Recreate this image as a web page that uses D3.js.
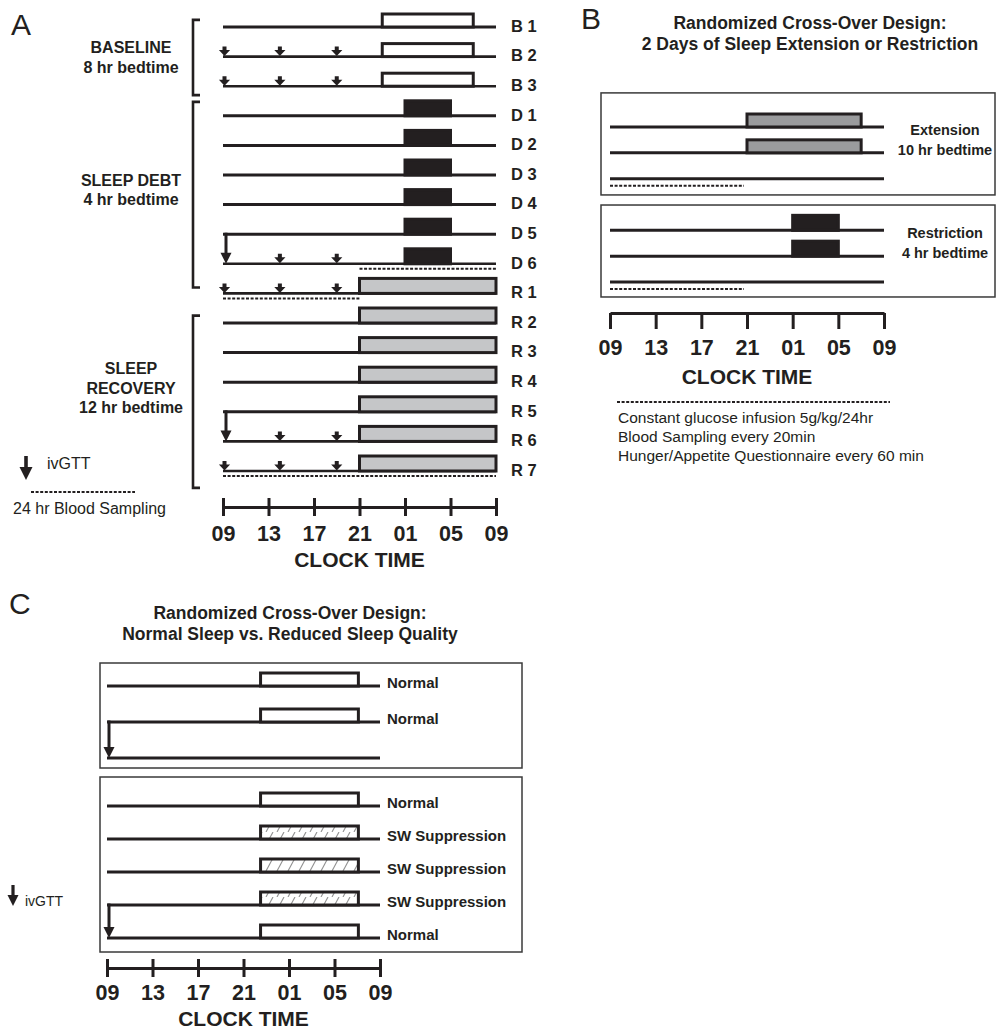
<!DOCTYPE html>
<html><head><meta charset="utf-8">
<script src="https://cdn.jsdelivr.net/npm/d3@7"></script>
<style>
body{margin:0;background:#fff}
svg{display:block}
text{font-family:"Liberation Sans",Arial,Helvetica,sans-serif;fill:#231f20}
</style>
</head><body>
<svg id="chart" width="997" height="1030"></svg>
<script>
// ================= DATA =================
const hourTicks  = [0, 4, 8, 12, 16, 20, 24];          // hours after 09:00
const tickLabels = ["09", "13", "17", "21", "01", "05", "09"];
const mealHours  = [0, 5, 10];                          // 09:00, 14:00, 19:00

// Panel A
const aRows     = ["B 1","B 2","B 3","D 1","D 2","D 3","D 4","D 5","D 6","R 1","R 2","R 3","R 4","R 5","R 6","R 7"];
const aBedStart = [14,14,14,16,16,16,16,16,16,12,12,12,12,12,12,12];
const aBedEnd   = [22,22,22,20,20,20,20,20,20,24,24,24,24,24,24,24];
const aBedKind  = ["open","open","open","black","black","black","black","black","black","gray","gray","gray","gray","gray","gray","gray"];
const aMealRows = ["B 2","B 3","D 6","R 1","R 6","R 7"];
const aIvgtt    = [["D 5","D 6"], ["R 5","R 6"]];
const aSampling = [["D 6",12,24], ["R 1",0,12], ["R 7",0,24]];
const aGroupLines = [["BASELINE","8 hr bedtime"], ["SLEEP DEBT","4 hr bedtime"], ["SLEEP","RECOVERY","12 hr bedtime"]];
const aLegend   = ["ivGTT", "24 hr Blood Sampling"];

// Panel B
const bTitle    = ["Randomized Cross-Over Design:", "2 Days of Sleep Extension or Restriction"];
const bRowIdx   = [0, 1, 2, 4, 5, 6];
const bBedStart = [12, 12, null, 16, 16, null];
const bBedEnd   = [22, 22, null, 20, 20, null];
const bBedKind  = ["ext", "ext", null, "black", "black", null];
const bSampling = [[2, 0, 12], [6, 0, 12]];
const bGroupLines = [["Extension","10 hr bedtime"], ["Restriction","4 hr bedtime"]];
const bNotes    = ["Constant glucose infusion 5g/kg/24hr", "Blood Sampling every 20min", "Hunger/Appetite Questionnaire every 60 min"];

// Panel C
const cTitle    = ["Randomized Cross-Over Design:", "Normal Sleep vs. Reduced Sleep Quality"];
const cRows     = ["Normal","Normal","","Normal","SW Suppression","SW Suppression","SW Suppression","Normal"];
const cBedStart = [13.5,13.5,null,13.5,13.5,13.5,13.5,13.5];
const cBedEnd   = [22.1,22.1,null,22.1,22.1,22.1,22.1,22.1];
const cBedKind  = ["open","open",null,"open","hatch","hatch","hatch","open"];
const cIvgtt    = [[1, 2], [6, 7]];

const axisTitle = "CLOCK TIME";

// ================= LAYOUT / STYLE =================
const ink = "#231f20";
const svg = d3.select("#chart");
const defs = svg.append("defs");
const pat = defs.append("pattern").attr("id","hatch").attr("patternUnits","userSpaceOnUse")
  .attr("width",11).attr("height",13);
pat.append("rect").attr("width",11).attr("height",13).attr("fill","#fff");
pat.append("path").attr("d","M2,13 L9,0").attr("stroke","#909090").attr("stroke-width",1.1);

const fills = {open:"#fff", black:ink, gray:"#c5c6c8", ext:"#9a9b9d", hatch:"url(#hatch)"};

function rowLine(g, x, y, x0 = 0, x1 = 24, w = 3) {
  g.append("line").attr("x1", x(x0)).attr("x2", x(x1)).attr("y1", y).attr("y2", y)
    .attr("stroke", ink).attr("stroke-width", w);
}
function bed(g, x, y, s, e, kind, h) {
  g.append("rect").attr("x", x(s)).attr("y", y - h).attr("width", x(e) - x(s)).attr("height", h)
    .attr("fill", fills[kind]).attr("stroke", ink).attr("stroke-width", 3);
}
function meal(g, cx, y) {
  g.append("path")
    .attr("d", `M${cx-2},${y-10} h4 v3.5 h3.6 l-5.6,6 l-5.6,-6 h3.6 z`)
    .attr("fill", ink);
}
function arrow(g, cx, y0, y1, head = 5, w = 2.6) {
  g.append("line").attr("x1", cx).attr("x2", cx).attr("y1", y0).attr("y2", y1 - head * 1.6)
    .attr("stroke", ink).attr("stroke-width", w);
  g.append("path").attr("d", `M${cx-head},${y1-head*2} L${cx+head},${y1-head*2} L${cx},${y1} Z`).attr("fill", ink);
}
function dotted(g, xa, xb, y) {
  g.append("line").attr("x1", xa).attr("x2", xb).attr("y1", y).attr("y2", y)
    .attr("stroke", ink).attr("stroke-width", 2).attr("stroke-dasharray", "3,1.6");
}
function label(g, x, y, t, size, weight = "bold", anchor = "start") {
  g.append("text").attr("x", x).attr("y", y).attr("dy", "0.35em").attr("font-size", size)
    .attr("font-weight", weight).attr("text-anchor", anchor).text(t);
}
function axis(g, x, y, up, down, labOff, titleOff) {
  const ax = d3.axisBottom(x).tickValues(hourTicks).tickFormat((d, i) => tickLabels[i])
    .tickSizeInner(down).tickSizeOuter(0);
  const a = g.append("g").attr("transform", `translate(0,${y})`).call(ax);
  a.select(".domain").attr("stroke", ink).attr("stroke-width", 3);
  a.selectAll(".tick line").attr("stroke", ink).attr("stroke-width", 3).attr("y1", -up);
  a.selectAll(".tick text").attr("y", labOff).attr("dy", "0.35em").attr("fill", ink)
    .attr("font-size", 21.5).attr("font-weight", "bold")
    .attr("font-family", "'Liberation Sans',Arial,sans-serif");
  label(g, (x.range()[0] + x.range()[1]) / 2, y + titleOff, axisTitle, 21, "bold", "middle");
}

// ================= PANEL A =================
const gA = svg.append("g");
const xA = d3.scaleLinear().domain([0, 24]).range([223, 496]);
const yA = d3.scaleLinear().domain([0, 15]).range([27, 471]);
const yRowA = r => yA(aRows.indexOf(r));
label(gA, 11, 24, "A", 30, "normal");

aRows.forEach((r, i) => {
  const y = yA(i);
  const marked = aMealRows.includes(r);
  rowLine(gA, xA, y, 0, 24, marked ? 2.6 : 3);
  bed(gA, xA, y, aBedStart[i], aBedEnd[i], aBedKind[i], aBedKind[i] === "open" ? 13 : 15);
  label(gA, 511, y - 1, r, 16.5);
});
aMealRows.forEach(r => {
  const hasIv = aIvgtt.some(p => p[1] === r);
  mealHours.forEach(h => { if (!(hasIv && h === 0)) meal(gA, xA(h) + (h === 0 ? 1.5 : 0), yRowA(r)); });
});
aIvgtt.forEach(([a, b]) => arrow(gA, xA(0) + 3, yRowA(a) - 1.5, yRowA(b), 5.5, 3));
aSampling.forEach(([r, s, e]) => dotted(gA, xA(s), xA(e), yRowA(r) + 5));

// group brackets and labels
const aBrackets = [[-0.24, 2.3], [2.53, 8.8], [9.75, 15.57]];
const aGroupCenter = [1.03, 5.5, 12.2];
aBrackets.forEach(([a, b]) => {
  gA.append("path").attr("d", `M200,${yA(a)} H193 V${yA(b)} H200`)
    .attr("fill", "none").attr("stroke", ink).attr("stroke-width", 2.6);
});
aGroupLines.forEach((lines, k) => {
  const c = yA(aGroupCenter[k]);
  lines.forEach((t, j) => label(gA, 131, c + (j - (lines.length - 1) / 2) * 19.5, t, 16, "bold", "middle"));
});
axis(gA, xA, 507, 9, 9, 26, 53);

// legend A
arrow(gA, 26, 456, 480, 6.5, 3.6);
label(gA, 47, 463, aLegend[0], 16, "normal");
dotted(gA, 31, 135, 492);
label(gA, 13, 508, aLegend[1], 16, "normal");

// ================= PANEL B =================
const gB = svg.append("g");
const xB = d3.scaleLinear().domain([0, 24]).range([610, 884]);
const yB = d3.scaleLinear().domain([0, 6]).range([127, 282]);
label(gB, 581, 18, "B", 30, "normal");
bTitle.forEach((t, j) => label(gB, 810, 23 + j * 21, t, 17.5, "bold", "middle"));
[[-1.32, 2.63], [3.02, 6.58]].forEach(([a, b]) => {
  gB.append("rect").attr("x", 601).attr("y", yB(a)).attr("width", 394).attr("height", yB(b) - yB(a))
    .attr("fill", "none").attr("stroke", "#3a3a3a").attr("stroke-width", 1.5);
});
bRowIdx.forEach((ri, i) => {
  const y = yB(ri);
  rowLine(gB, xB, y);
  if (bBedKind[i]) bed(gB, xB, y, bBedStart[i], bBedEnd[i], bBedKind[i], bBedKind[i] === "ext" ? 13 : 15);
});
bSampling.forEach(([ri, s, e]) => dotted(gB, xB(s), xB(e) - 3, yB(ri) + 7));
[0.5, 4.5].forEach((c, k) => {
  bGroupLines[k].forEach((t, j) => label(gB, 945, yB(c) - 10 + j * 20, t, 14.5, "bold", "middle"));
});
axis(gB, xB, 313, 0, 16, 34, 64);
dotted(gB, 617, 890, 402);
bNotes.forEach((t, j) => label(gB, 618, 418 + j * 19, t, 15.5, "normal"));

// ================= PANEL C =================
const gC = svg.append("g");
const xC = d3.scaleLinear().domain([0, 24]).range([107, 380]);
const yC1 = d3.scalePoint().domain([0, 1, 2]).range([686, 758]);
const yC2 = d3.scalePoint().domain([3, 4, 5, 6, 7]).range([806, 938]);
const yC = i => (i < 3 ? yC1(i) : yC2(i));
label(gC, 9, 603, "C", 30, "normal");
cTitle.forEach((t, j) => label(gC, 290, 613 + j * 21, t, 17.5, "bold", "middle"));
[[663, 768], [777, 952]].forEach(([a, b]) => {
  gC.append("rect").attr("x", 100).attr("y", a).attr("width", 422).attr("height", b - a)
    .attr("fill", "none").attr("stroke", "#3a3a3a").attr("stroke-width", 1.5);
});
cRows.forEach((r, i) => {
  const y = yC(i);
  rowLine(gC, xC, y);
  if (cBedKind[i]) bed(gC, xC, y, cBedStart[i], cBedEnd[i], cBedKind[i], 13);
  if (r) label(gC, 387, y - 3, r, 15, "bold");
});
cIvgtt.forEach(([a, b]) => arrow(gC, xC(0) + 2, yC(a) - 1.5, yC(b), 5.5, 3));
axis(gC, xC, 968, 9, 9, 24, 51);
arrow(gC, 13, 885, 906, 5.5, 3.2);
label(gC, 25, 901, aLegend[0], 14, "normal");
</script>
</body></html>
